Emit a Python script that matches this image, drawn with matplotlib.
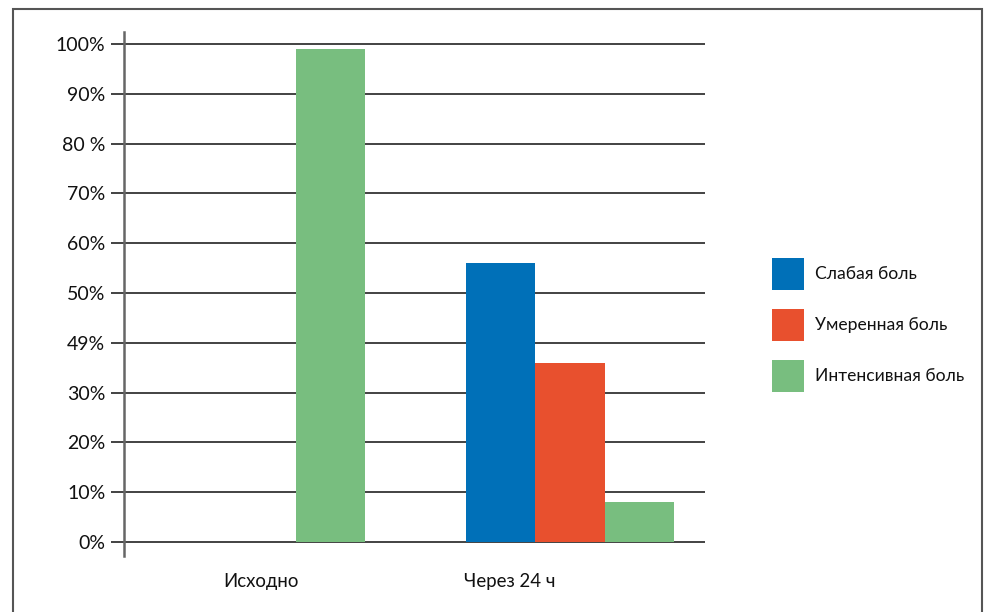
import matplotlib
matplotlib.use("Agg")
import matplotlib.pyplot as plt
from matplotlib.patches import Rectangle, Patch
import numpy as np

plt.rcParams['font.family'] = ['Lato', 'DejaVu Sans']

categories = ['Исходно', 'Через 24 ч']
series_names = ['Слабая боль', 'Умеренная боль', 'Интенсивная боль']
mild = [0, 56]
moderate = [0, 36]
intense = [99, 8]
colors = ['#0070b8', '#e8502e', '#78be7f']
yticks = [0, 10, 20, 30, 40, 50, 60, 70, 80, 90, 100]
ytick_labels = ['0%', '10%', '20%', '30%', '49%', '50%', '60%', '70%', '80 %', '90%', '100%']

fig = plt.figure(figsize=(9.92, 6.12), dpi=100)
ax = fig.add_axes([124 / 992, 56 / 612, 581 / 992, 524 / 612])

# outer frame
fig.patches.append(Rectangle((13 / 992, -0.05), 969 / 992, 1.05 - 9 / 612,
                             transform=fig.transFigure, fill=False,
                             edgecolor='#555555', linewidth=1.5))

x = np.arange(len(categories))
w = 0.2245
for i, (vals, name) in enumerate(zip([mild, moderate, intense], series_names)):
    ax.bar(x + (i - 1) * w, vals, width=w, color=colors[i], label=name, zorder=3)

ax.set_xlim(-0.443, 1.437)
ax.set_ylim(-2.8, 102.4)
ax.set_yticks(yticks)
ax.set_yticklabels(ytick_labels, fontsize=14, color='#111111')
ax.yaxis.grid(True, color='#222222', linewidth=1.2)
ax.set_axisbelow(True)
ax.tick_params(axis='y', length=9.4, width=1.2, color='#222222', pad=4)

ax.set_xticks([x[0], x[1] - 0.195])
ax.set_xticklabels(categories, fontsize=13.4, color='#111111')
ax.tick_params(axis='x', length=0, pad=12)

for s in ['top', 'right', 'bottom']:
    ax.spines[s].set_visible(False)
ax.spines['left'].set_color('#666666')
ax.spines['left'].set_linewidth(1.8)

handles = [Patch(facecolor=c, edgecolor='none') for c in colors]
fig.legend(handles, series_names, loc='center left',
           bbox_to_anchor=(772 / 992, 1 - 325 / 612), frameon=False,
           fontsize=12.6, handlelength=1.83, handleheight=2.4,
           labelspacing=1.11, handletextpad=0.6, borderaxespad=0,
           borderpad=0, labelcolor='#111111')

fig.savefig('out.png', dpi=100)
